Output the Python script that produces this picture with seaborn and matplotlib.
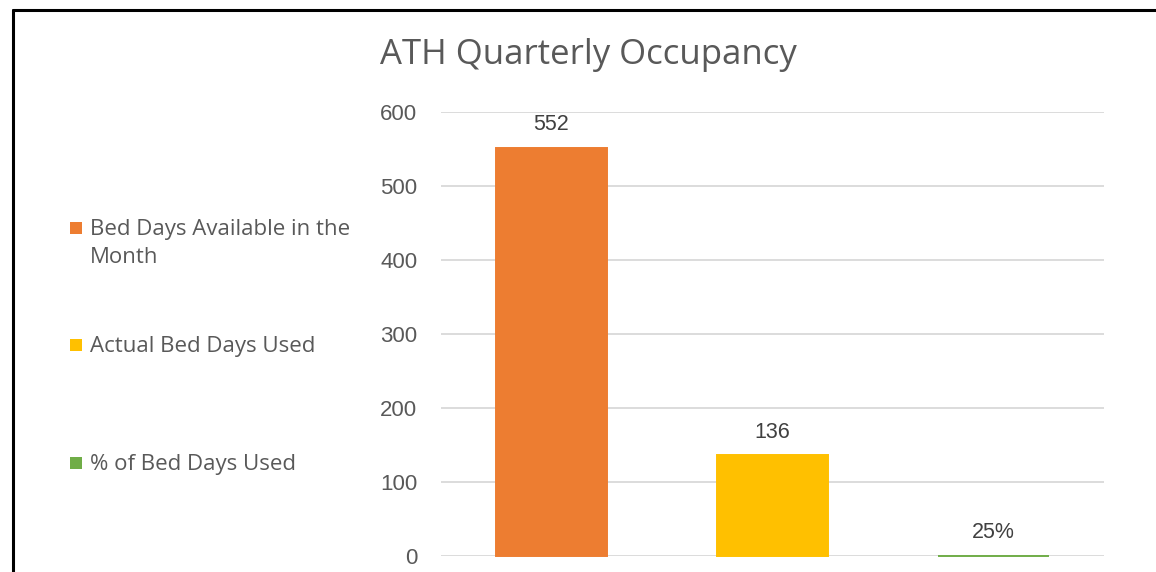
import matplotlib
matplotlib.use("Agg")
import matplotlib.pyplot as plt
from matplotlib.patches import Rectangle
from matplotlib.lines import Line2D
import seaborn as sns
import pandas as pd

# Chart data
categories = ["Bed Days Available in the\nMonth", "Actual Bed Days Used", "% of Bed Days Used"]
values = [552, 136, 0.25]
value_labels = ["552", "136", "25%"]
colors = ["#ED7D31", "#FFC000", "#70AD47"]
y_ticks = [0, 100, 200, 300, 400, 500, 600]

sns.set_theme(style="white")
plt.rcParams["font.family"] = ["Liberation Sans", "DejaVu Sans"]

df = pd.DataFrame({"category": categories, "value": values})

fig = plt.figure(figsize=(11.56, 5.72), dpi=100)
ax = fig.add_axes([441 / 1156, 1 - 556 / 572, 663 / 1156, 444 / 572])

sns.barplot(data=df, x="category", y="value", hue="category", palette=colors,
            saturation=1, width=0.5, dodge=False, legend=False, ax=ax, zorder=3)

# Thin outline so very short bars remain visible on the baseline
for patch, c in zip(ax.patches, colors):
    patch.set_edgecolor(c)
    patch.set_linewidth(1.4)
    patch.set_clip_on(False)
    patch.set_joinstyle("miter")

ax.set_xlim(-0.5, 2.5)
ax.set_ylim(0, 600)
ax.set_yticks(y_ticks)
ax.set_yticklabels([str(t) for t in y_ticks])
ax.set_xticks([])
ax.set_xlabel("")
ax.set_ylabel("")
ax.grid(axis="y", color="#D9D9D9", linewidth=1.3, zorder=0)
ax.set_axisbelow(True)
for s in ax.spines.values():
    s.set_visible(False)
ax.tick_params(axis="y", length=0, pad=17, labelsize=16, labelcolor="#595959")

for cont, lab in zip(ax.containers, value_labels):
    ax.bar_label(cont, labels=[lab], padding=9, fontsize=15.5, color="#404040")

# Title
fig.text(588 / 1156, 1 - 55 / 572, "ATH Quarterly Occupancy", ha="center", va="center",
         fontsize=25, color="#595959", family=["Open Sans", "DejaVu Sans"])

# Legend on the left
legend_rows = [228, 345, 463]
for lab, c, yrow in zip(categories, colors, legend_rows):
    yf = 1 - yrow / 572
    fig.patches.append(Rectangle((70 / 1156, yf - 6 / 572), 12 / 1156, 12 / 572,
                                 transform=fig.transFigure, facecolor=c, edgecolor="none"))
    fig.text(90 / 1156, yf + 9 / 572, lab, ha="left", va="top", fontsize=16,
             color="#595959", linespacing=1.42, family=["Open Sans", "DejaVu Sans"])

# Chart frame
fig.add_artist(Line2D([13 / 1156, 1], [1 - 10 / 572, 1 - 10 / 572],
                      transform=fig.transFigure, color="black", linewidth=2.2))
fig.add_artist(Line2D([13 / 1156, 13 / 1156], [0, 1 - 10 / 572],
                      transform=fig.transFigure, color="black", linewidth=2.2))

fig.savefig("out.png", dpi=100, facecolor="white")
